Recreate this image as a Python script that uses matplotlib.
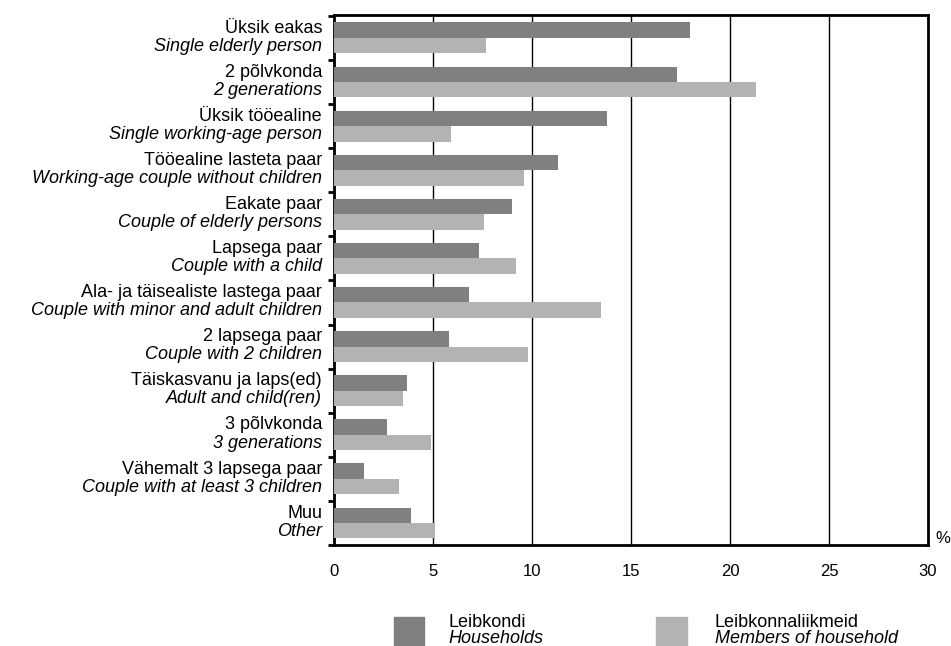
import numpy as np
import matplotlib
matplotlib.use('Agg')
import matplotlib.pyplot as plt
from matplotlib.patches import Rectangle
from matplotlib.transforms import blended_transform_factory

plt.rcParams['font.family'] = ['Liberation Sans', 'DejaVu Sans']

# Andmed
labels_et = ['Üksik eakas', '2 põlvkonda', 'Üksik tööealine', 'Tööealine lasteta paar',
             'Eakate paar', 'Lapsega paar', 'Ala- ja täisealiste lastega paar',
             '2 lapsega paar', 'Täiskasvanu ja laps(ed)', '3 põlvkonda',
             'Vähemalt 3 lapsega paar', 'Muu']
labels_en = ['Single elderly person', '2 generations', 'Single working-age person',
             'Working-age couple without children', 'Couple of elderly persons',
             'Couple with a child', 'Couple with minor and adult children',
             'Couple with 2 children', 'Adult and child(ren)', '3 generations',
             'Couple with at least 3 children', 'Other']
households = [18.0, 17.3, 13.8, 11.3, 9.0, 7.3, 6.8, 5.8, 3.7, 2.7, 1.5, 3.9]
members = [7.7, 21.3, 5.9, 9.6, 7.6, 9.2, 13.5, 9.8, 3.5, 4.9, 3.3, 5.1]
xticks = [0, 5, 10, 15, 20, 25, 30]

dark = '#808080'
light = '#b3b3b3'

fig = plt.figure(figsize=(9.51, 6.46), dpi=100)
ax = fig.add_axes([334 / 951, 1 - 545 / 646, (928 - 334) / 951, 530 / 646])

y = np.arange(len(labels_et))
h = 0.35
ax.barh(y - h / 2, households, height=h, color=dark, zorder=3)
ax.barh(y + h / 2, members, height=h, color=light, zorder=3)

ax.set_xlim(0, 30)
ax.set_ylim(11.48, -0.52)
ax.set_xticks(xticks)
ax.set_xticklabels([str(t) for t in xticks], fontsize=12)
ax.tick_params(axis='x', length=0, pad=14)
ax.set_yticks(np.arange(-0.5, len(labels_et)))
ax.set_yticklabels([])
ax.tick_params(axis='y', length=4, width=2, direction='out')
ax.grid(axis='x', color='black', linewidth=1, zorder=1)
for s in ax.spines.values():
    s.set_linewidth(2)

trans = blended_transform_factory(ax.transAxes, ax.transData)
for i in range(len(labels_et)):
    ax.annotate(labels_et[i], xy=(0, i), xycoords=trans, xytext=(-8.6, 3.8),
                textcoords='offset points', ha='right', va='baseline', fontsize=13)
    ax.annotate(labels_en[i], xy=(0, i), xycoords=trans, xytext=(-8.6, -9.2),
                textcoords='offset points', ha='right', va='baseline', fontsize=13,
                style='italic')

ax.text(1.013, 0.012, '%', transform=ax.transAxes, fontsize=12, va='center')

# Legend
fig.add_artist(Rectangle((394 / 951, 0), 30 / 951, 29 / 646, transform=fig.transFigure,
                         color=dark))
fig.add_artist(Rectangle((656 / 951, 0), 31 / 951, 29 / 646, transform=fig.transFigure,
                         color=light))
fig.text(448 / 951, 1 - 627 / 646, 'Leibkondi', fontsize=13, va='baseline')
fig.text(448 / 951, 1 - 643 / 646, 'Households', fontsize=13, va='baseline', style='italic')
fig.text(715 / 951, 1 - 627 / 646, 'Leibkonnaliikmeid', fontsize=13, va='baseline')
fig.text(715 / 951, 1 - 643 / 646, 'Members of household', fontsize=13, va='baseline',
         style='italic')

fig.savefig('out.png', dpi=100)
